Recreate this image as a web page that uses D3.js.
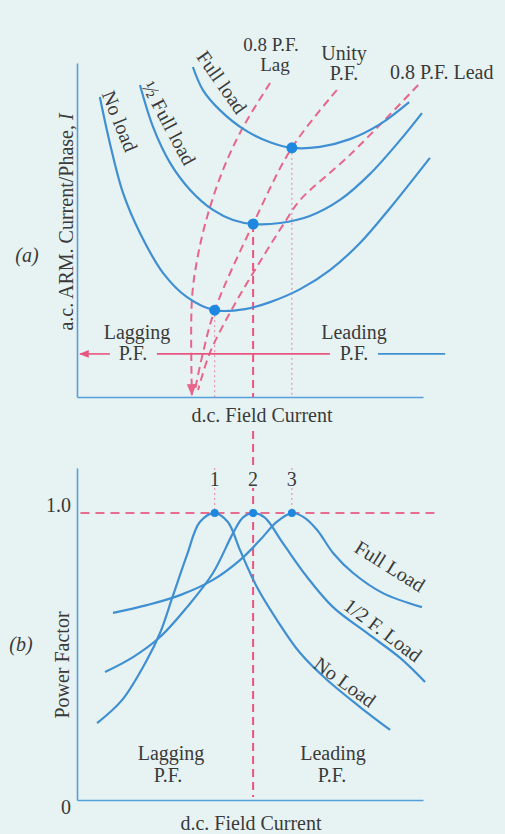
<!DOCTYPE html>
<html><head><meta charset="utf-8">
<script src="https://cdn.jsdelivr.net/npm/d3@7"></script>
<style>html,body{margin:0;padding:0;background:#e7f3f3;} svg{display:block;}</style>
</head><body>
<svg id="c" width="505" height="834"></svg>
<script>
// ---------- DATA (field current 0-100, armature current 0-100, power factor 0-1) ----------
// (a) V-curves: [field current, armature current]
const vNoLoad  = [[6.6,89.8],[9.5,76.0],[13.3,61.1],[18.2,49.1],[24.9,37.1],[31.8,29.9],[39.8,26.0],[48.6,26.3],[55.8,28.4],[64.5,32.3],[73.1,38.0],[81.8,46.1],[90.5,56.6],[102.0,71.6]];
const vHalf    = [[18.2,93.4],[22.0,80.8],[26.9,70.1],[32.7,62.0],[39.3,56.0],[45.1,53.0],[50.9,51.8],[58.7,52.1],[67.3,54.2],[76.0,59.0],[84.7,66.8],[93.4,76.9],[99.7,85.0]];
const vFull    = [[33.5,98.8],[36.4,91.9],[41.3,85.9],[48.6,79.9],[55.8,76.3],[62.1,74.6],[70.2,74.9],[78.9,77.2],[87.6,81.7],[96.0,88.3]];
const vCurveLabels = ["No load", "½ Full load", "Full load"];
// minimum-current points (unity p.f.)
const minField   = [39.8, 50.9, 62.1];
const minCurrent = [26.0, 51.8, 74.6];
const peakLabels = ["1", "2", "3"];
// constant power-factor loci
const lagLocus   = [[55.8,94.0],[48.0,80.8],[42.2,68.0],[37.6,53.9],[34.7,41.0],[33.2,29.0],[33.2,0.6]];
const unityLocus = [[75.1,91.9],[62.1,74.6],[50.9,51.8],[39.8,26.0],[36.4,13.2],[34.1,2.1]];
const leadLocus  = [[98.6,93.4],[78.9,72.5],[64.5,59.0],[60.1,52.4],[52.3,39.5],[45.1,26.9],[38.4,13.2],[35.0,2.1]];
const locusLabels = [["0.8 P.F.","Lag"],["Unity","P.F."],["0.8 P.F. Lead"]];
// (b) power factor curves: [field current, p.f.]
const pfNoLoad = [[5.8,0.268],[13.0,0.348],[20.2,0.488],[24.0,0.582],[27.7,0.711],[31.8,0.854],[35.5,0.969],[39.8,1.0],[43.6,0.969],[47.1,0.871],[52.0,0.742],[57.8,0.627],[64.5,0.512],[72.3,0.418],[81.8,0.324],[90.5,0.244]];
const pfHalf   = [[8.1,0.446],[16.2,0.498],[24.0,0.568],[31.8,0.672],[39.3,0.791],[45.1,0.930],[48.0,0.985],[50.9,1.0],[54.2,0.985],[59.5,0.895],[66.5,0.777],[74.0,0.672],[83.8,0.582],[93.4,0.495],[100.6,0.411]];
const pfFull   = [[10.4,0.652],[20.2,0.679],[29.8,0.714],[39.3,0.767],[47.1,0.836],[52.9,0.906],[57.8,0.970],[62.1,1.0],[65.6,0.985],[69.4,0.941],[74.0,0.861],[79.8,0.791],[88.4,0.721],[99.7,0.672]];
const pfCurveLabels = ["No Load", "1/2 F. Load", "Full Load"];
const pfTicks = [0, 1.0];
const pfTickLabels = ["0", "1.0"];

// ---------- DRAWING ----------
const svg = d3.select("#c");
const BG = "#e7f3f3";
const BLUE = "#3f8fd2", PINK = "#e8557f", TXT = "#3a3a3a", AXIS = "#55a0da";
const FONT = "'Liberation Serif','Times New Roman',serif";
svg.append("rect").attr("width",505).attr("height",834).attr("fill",BG);

const defs = svg.append("defs");
defs.append("marker").attr("id","arr").attr("viewBox","0 0 10 10").attr("refX",9).attr("refY",5)
  .attr("markerWidth",6).attr("markerHeight",6).attr("orient","auto-start-reverse")
  .append("path").attr("d","M0,1 L10,5 L0,9 z").attr("fill",PINK);

const x  = d3.scaleLinear().domain([0,100]).range([77,423]);
const yA = d3.scaleLinear().domain([0,100]).range([397,63]);
const yB = d3.scaleLinear().domain([0,1.157]).range([800,468]);

const smooth = d3.curveCatmullRom.alpha(0.5);
const lineA = d3.line().x(d=>x(d[0])).y(d=>yA(d[1])).curve(smooth);
const lineB = d3.line().x(d=>x(d[0])).y(d=>yB(d[1])).curve(smooth);

function txt(g, s, px, py, opts={}) {
  const t = g.append("text").attr("x",px).attr("y",py).text(s)
    .attr("font-family",FONT).attr("font-size",opts.size||20).attr("fill",TXT)
    .attr("text-anchor",opts.anchor||"middle");
  if (opts.rot !== undefined) { t.attr("transform",`rotate(${opts.rot},${px},${py})`).attr("dominant-baseline","central"); }
  if (opts.italic) t.attr("font-style","italic");
  return t;
}

// ===== Panel (a) =====
const gA = svg.append("g");
gA.append("g").attr("transform",`translate(0,${yA(0)})`)
  .call(d3.axisBottom(x).tickValues([]).tickSizeOuter(0))
  .call(g=>g.select(".domain").attr("stroke",AXIS).attr("stroke-width",1.6));
gA.append("g").attr("transform",`translate(${x(0)},0)`)
  .call(d3.axisLeft(yA).tickValues([]).tickSizeOuter(0))
  .call(g=>g.select(".domain").attr("stroke",AXIS).attr("stroke-width",1.6));

[0,2].forEach(i=>{
  gA.append("line").attr("x1",x(minField[i])).attr("x2",x(minField[i]))
    .attr("y1",yA(minCurrent[i])).attr("y2",yA(0))
    .attr("stroke",PINK).attr("stroke-width",1).attr("stroke-dasharray","2,3").attr("opacity",0.7);
});
gA.append("line").attr("x1",x(minField[1])).attr("x2",x(minField[1]))
  .attr("y1",yA(minCurrent[1])).attr("y2",yA(0))
  .attr("stroke",PINK).attr("stroke-width",2).attr("stroke-dasharray","8,5");

const hLevel = 12.9;
gA.append("line").attr("x1",x(9.5)).attr("x2",x(0.9)).attr("y1",yA(hLevel)).attr("y2",yA(hLevel))
  .attr("stroke",PINK).attr("stroke-width",1.6).attr("marker-end","url(#arr)");
gA.append("line").attr("x1",x(23.1)).attr("x2",x(73.1)).attr("y1",yA(hLevel)).attr("y2",yA(hLevel))
  .attr("stroke",PINK).attr("stroke-width",1.6);
gA.append("line").attr("x1",x(87.0)).attr("x2",x(106.4)).attr("y1",yA(hLevel)).attr("y2",yA(hLevel))
  .attr("stroke",BLUE).attr("stroke-width",1.6);

[lagLocus, unityLocus, leadLocus].forEach((d,i)=>{
  const p = gA.append("path").attr("d",lineA(d)).attr("fill","none").attr("stroke",PINK)
    .attr("stroke-width",2).attr("stroke-dasharray","8,5").attr("opacity",0.9);
  if (i===0) p.attr("marker-end","url(#arr)");
});

[vNoLoad, vHalf, vFull].forEach(d=>{
  gA.append("path").attr("d",lineA(d)).attr("fill","none").attr("stroke",BLUE).attr("stroke-width",2.2);
});
minField.forEach((f,i)=>{
  gA.append("circle").attr("cx",x(f)).attr("cy",yA(minCurrent[i])).attr("r",5.5).attr("fill","#1e88e0");
});

txt(gA, vCurveLabels[0], x(12.4), yA(82.6), {rot:68});
txt(gA, vCurveLabels[1], x(26.6), yA(82.0), {rot:62});
txt(gA, vCurveLabels[2], x(41.9), yA(94.3), {rot:55});
txt(gA, locusLabels[0][0], 271, 51, {size:19});
txt(gA, locusLabels[0][1], 275, 71, {size:19});
txt(gA, locusLabels[1][0], 344, 60);
txt(gA, locusLabels[1][1], 344, 80);
txt(gA, locusLabels[2][0], 390, 79, {anchor:"start"});
txt(gA, "Lagging", 137, 339);
txt(gA, "P.F.", 133, 360);
txt(gA, "Leading", 354, 339);
txt(gA, "P.F.", 354, 360);
txt(gA, "(a)", 27, 262, {italic:true});
const ylab = txt(gA, "a.c. ARM. Current/Phase, ", 66, 222, {rot:-90});
ylab.append("tspan").attr("font-style","italic").text("I");
txt(gA, "d.c. Field Current", 262, 422);

// ===== Panel (b) =====
const gB = svg.append("g");
gB.append("g").attr("transform",`translate(0,${yB(0)})`)
  .call(d3.axisBottom(x).tickValues([]).tickSizeOuter(0))
  .call(g=>g.select(".domain").attr("stroke",AXIS).attr("stroke-width",1.6));
gB.append("g").attr("transform",`translate(${x(0)},0)`)
  .call(d3.axisLeft(yB).tickValues(pfTicks).tickSize(0).tickSizeOuter(0).tickPadding(6)
        .tickFormat((d,i)=>pfTickLabels[i]))
  .call(g=>{
    g.select(".domain").attr("stroke",AXIS).attr("stroke-width",1.6);
    g.selectAll("text").attr("font-family",FONT).attr("font-size",20).attr("fill",TXT)
      .attr("dy",(d)=> d===0 ? "0.65em" : "-0.1em");
  });

gB.append("line").attr("x1",x(1)).attr("x2",x(104.3)).attr("y1",yB(1)).attr("y2",yB(1))
  .attr("stroke",PINK).attr("stroke-width",2).attr("stroke-dasharray","9,6").attr("opacity",0.85);
gB.append("line").attr("x1",x(minField[1])).attr("x2",x(minField[1]))
  .attr("y1",431).attr("y2",yB(0)-3)
  .attr("stroke",PINK).attr("stroke-width",2).attr("stroke-dasharray","8,5");
[0,2].forEach(i=>{
  gB.append("line").attr("x1",x(minField[i])).attr("x2",x(minField[i]))
    .attr("y1",yB(1.157)).attr("y2",yB(1))
    .attr("stroke",PINK).attr("stroke-width",1).attr("stroke-dasharray","2,3").attr("opacity",0.7);
});
minField.forEach((f,i)=>{
  gB.append("rect").attr("x",x(f)-7).attr("y",470).attr("width",14).attr("height",18).attr("fill",BG);
  txt(gB, peakLabels[i], x(f), 486);
});

[pfNoLoad, pfHalf, pfFull].forEach(d=>{
  gB.append("path").attr("d",lineB(d)).attr("fill","none").attr("stroke",BLUE).attr("stroke-width",2.2);
});
minField.forEach(f=>{
  gB.append("circle").attr("cx",x(f)).attr("cy",yB(1)).attr("r",4).attr("fill","#1e88e0");
});

txt(gB, pfCurveLabels[0], 345, 682, {rot:36});
txt(gB, pfCurveLabels[1], 383, 630, {rot:37});
txt(gB, pfCurveLabels[2], 390, 566, {rot:32});
txt(gB, "Lagging", 171, 760);
txt(gB, "P.F.", 168, 782);
txt(gB, "Leading", 333, 760);
txt(gB, "P.F.", 332, 782);
txt(gB, "(b)", 21, 651, {italic:true});
txt(gB, "Power Factor", 62, 665, {rot:-90});
txt(gB, "d.c. Field Current", 251, 830);
</script>
</body></html>
